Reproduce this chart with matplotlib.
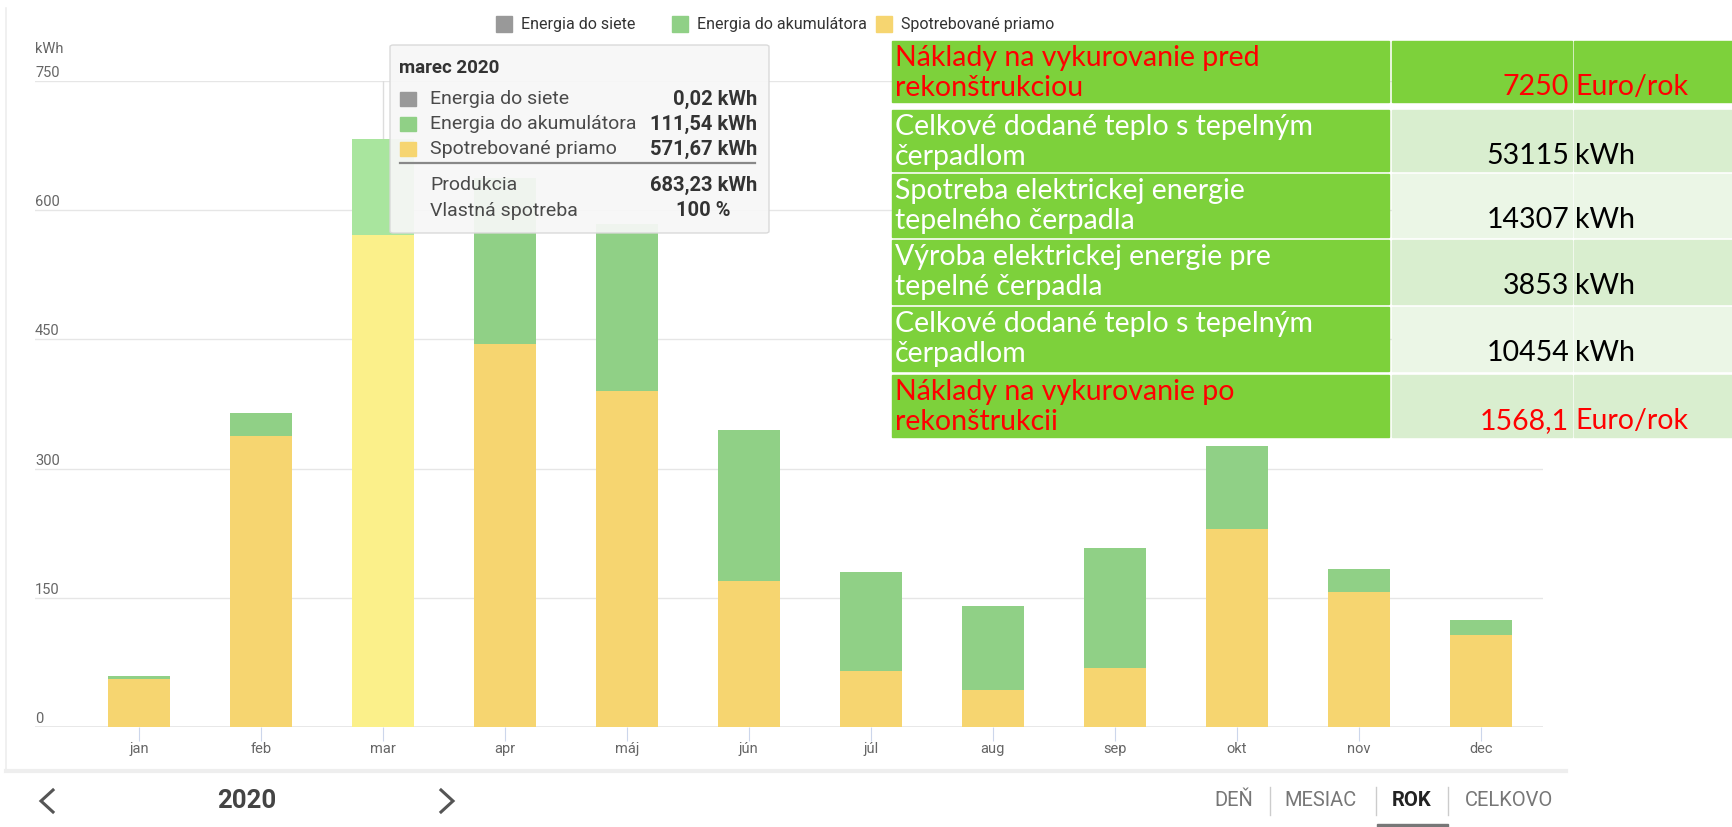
import numpy as np
import matplotlib
matplotlib.use("Agg")
import matplotlib.pyplot as plt
from matplotlib.patches import Rectangle, FancyBboxPatch
from matplotlib.lines import Line2D

W, H = 1732, 827

# ---- data ----------------------------------------------------------------
months = ["jan", "feb", "mar", "apr", "máj", "jún", "júl", "aug", "sep", "okt", "nov", "dec"]
direct = [56, 338, 571.67, 445, 390, 169, 65, 43, 69, 230, 157, 107]      # Spotrebované priamo
battery = [3, 27, 111.54, 192, 194, 176, 115, 98, 139, 96, 27, 17]       # Energia do akumulátora
grid = [0, 0, 0.02, 0, 0, 0, 0, 0, 0, 0, 0, 0]                             # Energia do siete
yticks = [0, 150, 300, 450, 600, 750]
series_names = ["Energia do siete", "Energia do akumulátora", "Spotrebované priamo"]

tip_title = "marec 2020"
tip_rows = [("Energia do siete", "0,02 kWh"),
            ("Energia do akumulátora", "111,54 kWh"),
            ("Spotrebované priamo", "571,67 kWh")]
tip_totals = [("Produkcia", "683,23 kWh"), ("Vlastná spotreba", "100 %")]

tab_labels = ["Náklady na vykurovanie pred\nrekonštrukciou",
              "Celkové dodané teplo s tepelným\nčerpadlom",
              "Spotreba elektrickej energie\ntepelného čerpadla",
              "Výroba elektrickej energie pre\ntepelné čerpadla",
              "Celkové dodané teplo s tepelným\nčerpadlom",
              "Náklady na vykurovanie po\nrekonštrukcii"]
tab_values = ["7250", "53115", "14307", "3853", "10454", "1568,1"]
tab_units = ["Euro/rok", "kWh", "kWh", "kWh", "kWh", "Euro/rok"]
tab_red = [True, False, False, False, False, True]

nav_items = ["DEŇ", "MESIAC", "ROK", "CELKOVO"]

# ---- style ---------------------------------------------------------------
C_GREY, C_GREEN, C_YEL = "#999999", "#90d086", "#f6d570"
C_GREEN_HI, C_YEL_HI = "#a9e59e", "#fbf08a"
TAB_GREEN, TAB_L1, TAB_L2 = "#7dd13b", "#d9eecf", "#ebf6e6"
plt.rcParams["font.family"] = ["Roboto", "DejaVu Sans"]

def fx(px): return px / W
def fy(py): return 1 - py / H

fig = plt.figure(figsize=(W / 100, H / 100), dpi=100)
fig.patch.set_facecolor("white")

# card border
fig.add_artist(Line2D([fx(6), fx(6)], [fy(8), fy(770)], color="#eeeeee", lw=1.2))
fig.add_artist(Line2D([fx(6), fx(1566)], [fy(771), fy(771)], color="#eeeeee", lw=3))

# ---- chart ---------------------------------------------------------------
ax = fig.add_axes([fx(35), fy(727), fx(1543) - fx(35), fy(81) - fy(727)])
x = np.arange(len(months))
ax.set_xlim(-0.852, 11.51)
ax.set_ylim(0, 750)
for s in ax.spines.values():
    s.set_visible(False)
for v in yticks[1:]:
    ax.axhline(v, color="#e6e6e6", lw=1, zorder=0)
ax.axhline(0, color="#e6e6e6", lw=2, zorder=0)
ax.axvline(2, color="#dddddd", lw=1, zorder=0)

ycol = [C_YEL_HI if m == "mar" else C_YEL for m in months]
gcol = [C_GREEN_HI if m == "mar" else C_GREEN for m in months]
bw = 0.51
ax.bar(x, direct, bw, color=ycol, zorder=2)
ax.bar(x, battery, bw, bottom=direct, color=gcol, zorder=2)
ax.bar(x, grid, bw, bottom=np.add(direct, battery), color=C_GREY, zorder=2)

ax.set_yticks([])
ax.set_xticks(x)
ax.set_xticklabels(months, fontsize=10.5, color="#666666")
ax.tick_params(axis="x", length=10, color="#ccd6eb", pad=1)
for v in yticks:
    ax.annotate(str(v), xy=(0, v), xycoords=("axes fraction", "data"),
                xytext=(0, 1), textcoords="offset pixels",
                fontsize=10.5, color="#666666", ha="left", va="bottom")
ax.annotate("kWh", xy=(0, 750), xycoords=("axes fraction", "data"),
            xytext=(0, 25), textcoords="offset pixels",
            fontsize=10.5, color="#666666", ha="left", va="bottom")

# legend
for name, col, sx in zip(series_names, [C_GREY, C_GREEN, C_YEL], [496, 672, 876]):
    fig.add_artist(Rectangle((fx(sx), fy(32)), fx(16), 16 / H, color=col))
    fig.text(fx(sx + 25), fy(24), name, fontsize=11.5, color="#333333", va="center")

# tooltip
fig.add_artist(FancyBboxPatch((fx(390), fy(233)), fx(769) - fx(390), fy(45) - fy(233),
                              boxstyle="round,pad=0,rounding_size=0.002",
                              fc="#f7f7f7", ec="#d8d8d8", lw=1, alpha=0.93))
fig.text(fx(399), fy(68), tip_title, fontsize=13.5, fontweight="bold", color="#333333", va="center")
for (lab, val), col, ry in zip(tip_rows, [C_GREY, C_GREEN, C_YEL], [99, 124, 149]):
    fig.add_artist(Rectangle((fx(400), fy(ry + 7)), fx(16), 14 / H, color=col))
    fig.text(fx(430), fy(ry), lab, fontsize=14, color="#4a4a4a", va="center")
    fig.text(fx(757), fy(ry), val, fontsize=14.5, color="#333333", va="center",
             ha="right", fontweight="bold")
fig.add_artist(Line2D([fx(400), fx(755)], [fy(163), fy(163)], color="#888888", lw=1.6))
for (lab, val), ry, rx in zip(tip_totals, [185, 211], [757, 731]):
    fig.text(fx(430), fy(ry), lab, fontsize=14, color="#4a4a4a", va="center")
    fig.text(fx(rx), fy(ry), val, fontsize=14.5, color="#333333", va="center",
             ha="right", fontweight="bold")

# ---- table ---------------------------------------------------------------
rows_px = [(41, 102), (110, 171), (174, 237), (240, 304), (307, 371), (375, 437)]
cols_px = [(892, 1389), (1392, 1572), (1574, 1732)]
tfont = ["Lato", "DejaVu Sans"]
for i, (top, bot) in enumerate(rows_px):
    fills = [TAB_GREEN] + ([TAB_GREEN] * 2 if i == 0 else [TAB_L1 if i % 2 == 1 else TAB_L2] * 2)
    for (l, r), fc in zip(cols_px, fills):
        fig.add_artist(Rectangle((fx(l), fy(bot)), fx(r) - fx(l), (bot - top) / H, color=fc))
    red = tab_red[i]
    fig.text(fx(895), fy(top + 32), tab_labels[i], fontsize=20.5, family=tfont,
             color="#ff0000" if red else "white", va="center", linespacing=1.15)
    fig.text(fx(1569), fy(top + 46), tab_values[i], fontsize=20.5, family=tfont,
             color="#ff0000" if red else "black", va="center", ha="right")
    fig.text(fx(1575), fy(top + 46), tab_units[i], fontsize=20.5, family=tfont,
             color="#ff0000" if red else "black", va="center", ha="left")

# ---- bottom navigation ---------------------------------------------------
for cx, d in [(47, 1), (447, -1)]:
    fig.add_artist(Line2D([fx(cx + 6 * d), fx(cx - 6 * d), fx(cx + 6 * d)],
                          [fy(790), fy(801), fy(812)], color="#555555", lw=2.2,
                          solid_joinstyle="miter"))
fig.text(fx(247), fy(801), "2020", fontsize=18.5, fontweight="bold", color="#444444",
         ha="center", va="center")
for lab, cx in zip(nav_items, [1234, 1321, 1412, 1509]):
    fig.text(fx(cx), fy(801), lab, fontsize=14.5, color="#222222" if lab == "ROK" else "#777777",
             fontweight="bold" if lab == "ROK" else "normal", ha="center", va="center")
for sx in [1270, 1376, 1448]:
    fig.add_artist(Line2D([fx(sx), fx(sx)], [fy(787), fy(815)], color="#cccccc", lw=1))
fig.add_artist(Rectangle((fx(1377), 0), fx(71), 3 / H, color="#777777"))

fig.savefig("out.png", dpi=100)
